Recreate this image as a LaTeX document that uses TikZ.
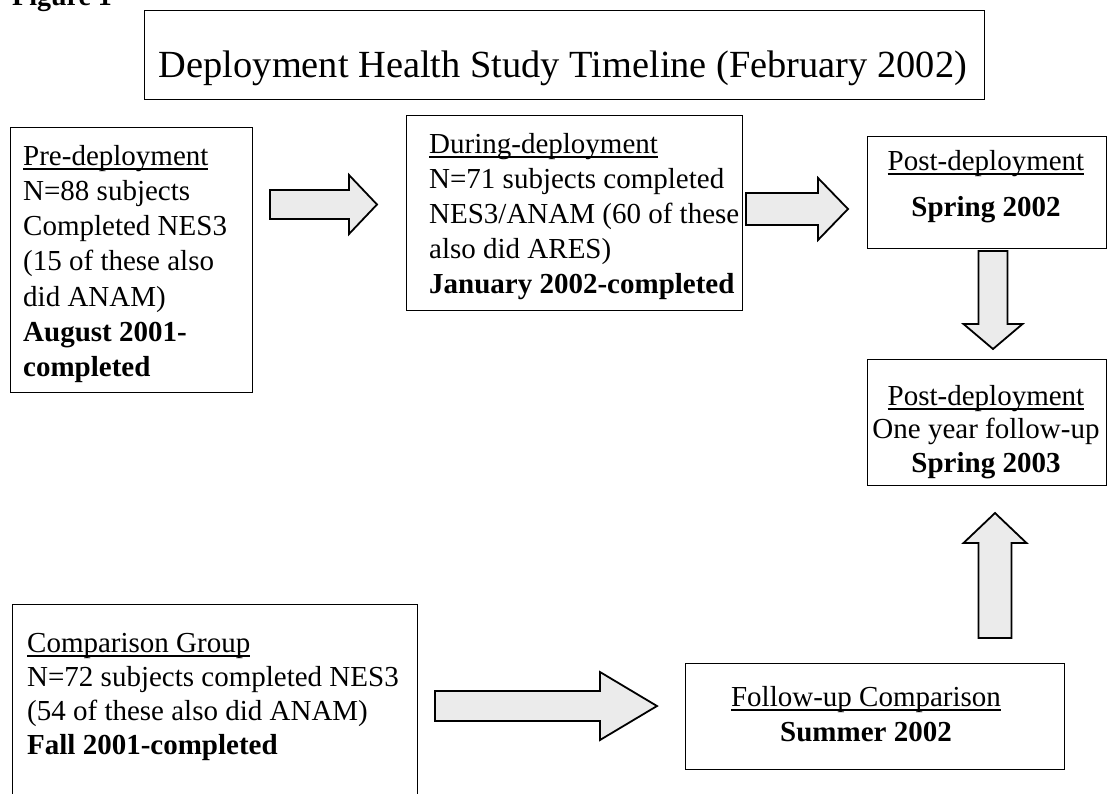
\documentclass[tikz,border=0pt]{standalone}
\usepackage{fontspec}
\setmainfont{Liberation Serif}
\newsavebox{\ulbox}
\newcommand{\ulword}[1]{\sbox{\ulbox}{#1}\rlap{\rule[-4.5pt]{\wd\ulbox}{1.2pt}}\usebox{\ulbox}}

\begin{document}
\begin{tikzpicture}[x=1pt, y=-1pt,
	box/.style={draw, line width=1.2pt, inner sep=0pt, anchor=north west},
	txt/.style={inner sep=0pt, font=\fontsize{29}{35}\selectfont},
	blockarrow/.style={draw, line width=1.8pt, line join=miter, fill=black!8}]
	\useasboundingbox (0,0) rectangle (1108,793);

	% heading and title
	\node[anchor=base west, inner sep=0pt, font=\fontsize{28}{32}\selectfont\bfseries] (fig) at (12,5) {Figure 1};
	\node[box, minimum width=840, minimum height=89] (title) at (144,10) {};
	\node[anchor=base, inner sep=0pt, font=\fontsize{38.4}{44}\selectfont] (title-t) at (563,77) {Deployment Health Study Timeline (February 2002)};

	% boxes
	\node[box, minimum width=242, minimum height=265] (pre) at (10,127) {};
	\node[box, minimum width=336, minimum height=195] (during) at (406,115) {};
	\node[box, minimum width=239, minimum height=112] (post) at (867,136) {};
	\node[box, minimum width=239, minimum height=126] (year) at (867,359) {};
	\node[box, minimum width=405, minimum height=230] (comp) at (12,604) {};
	\node[box, minimum width=379, minimum height=106] (follow) at (685,663) {};

	% texts
	\foreach \l [count=\i] in {{\ulword{Pre-deployment}}, {N=88 subjects}, {Completed NES3},
		{(15 of these also}, {did ANAM)}, {\textbf{August 2001-}}, {\textbf{completed}}}
		\node[txt, anchor=base west] (pre-\i) at (23,{165+35.3*(\i-1)}) {\l};
	\foreach \l [count=\i] in {{\ulword{During-deployment}}, {N=71 subjects completed},
		{NES3/ANAM (60 of these}, {also did ARES)}, {\textbf{January 2002-completed}}}
		\node[txt, anchor=base west] (during-\i) at (429,{153+35*(\i-1)}) {\l};
	\foreach \l [count=\i] in {{\ulword{Post-deployment}}, {\textbf{Spring 2002}}}
		\node[txt, anchor=base] (post-\i) at (986,{170+46*(\i-1)}) {\l};
	\foreach \l [count=\i] in {{\ulword{Post-deployment}}, {One year follow-up}, {\textbf{Spring 2003}}}
		\node[txt, anchor=base] (year-\i) at (986,{405+33.5*(\i-1)}) {\l};
	\foreach \l [count=\i] in {{\ulword{Comparison Group}}, {N=72 subjects completed NES3},
		{(54 of these also did ANAM)}, {\textbf{Fall 2001-completed}}}
		\node[txt, anchor=base west] (comp-\i) at (27,{652+34.3*(\i-1)}) {\l};
	\foreach \l [count=\i] in {{\ulword{Follow-up Comparison}}, {\textbf{Summer 2002}}}
		\node[txt, anchor=base] (follow-\i) at (866,{706+35*(\i-1)}) {\l};

	% block arrows: tail x/tail y/length/angle/head length/shaft half/head half
	\foreach \ax/\ay/\al/\ar/\hl/\sw/\hw in {270/204.5/107/0/28/14.5/29.5,
		746/209/102/0/30/16/31, 435/706/222/0/57/15/34,
		993/251/98/-90/25/14.5/29.5, 995/638/125/90/30/16.5/31.5}
		\draw[blockarrow, shift={(\ax,\ay)}, rotate=\ar] (0,-\sw) -- (\al-\hl,-\sw) -- (\al-\hl,-\hw)
			-- (\al,0) -- (\al-\hl,\hw) -- (\al-\hl,\sw) -- (0,\sw) -- cycle;
\end{tikzpicture}
\end{document}
